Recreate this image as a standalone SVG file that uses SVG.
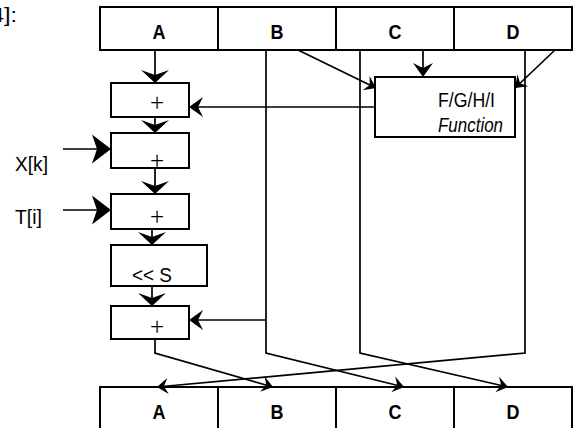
<svg xmlns="http://www.w3.org/2000/svg" width="574" height="428" viewBox="0 0 574 428">
<style>
.box{fill:#fff;stroke:#000;stroke-width:2}
.ln{fill:none;stroke:#000;stroke-width:1.7}
.t{font-family:"Liberation Sans Narrow","Liberation Sans",Arial,sans-serif;font-size:21px;fill:#000}
.b{font-weight:bold;text-anchor:middle}
.p{font-family:"Liberation Serif","Times New Roman",serif;font-size:25px;text-anchor:middle;fill:#000}
</style>
<defs>
<marker id="mv" markerUnits="userSpaceOnUse" orient="auto" refX="0" refY="0" markerWidth="40" markerHeight="40" viewBox="-20 -20 40 40" overflow="visible"><path d="M0,0 L-13,-14 L-8,0 L-13,14 Z" fill="#000"/></marker>
<marker id="mh" markerUnits="userSpaceOnUse" orient="auto" refX="0" refY="0" markerWidth="40" markerHeight="40" viewBox="-20 -20 40 40" overflow="visible"><path d="M0,0 L-14,-10 L-9,0 L-14,10 Z" fill="#000"/></marker>
<marker id="mb" markerUnits="userSpaceOnUse" orient="auto" refX="0" refY="0" markerWidth="40" markerHeight="40" viewBox="-20 -20 40 40" overflow="visible"><path d="M0,0 L-19,-14.5 L-14,0 L-19,14.5 Z" fill="#000"/></marker>
<marker id="ms" markerUnits="userSpaceOnUse" orient="auto" refX="0" refY="0" markerWidth="40" markerHeight="40" viewBox="-20 -20 40 40" overflow="visible"><path d="M0,0 L-11,-8 L-7,0 L-11,8 Z" fill="#000"/></marker>
</defs>
<text class="t" x="-9" y="22" textLength="26" lengthAdjust="spacingAndGlyphs">4]:</text>
<g id="regTop">
<rect class="box" x="100" y="7" width="472" height="43"/>
<path class="ln" d="M218,7V50M336,7V50M454,7V50" style="stroke-width:2"/>
<text class="t b" x="159" y="39" textLength="13" lengthAdjust="spacingAndGlyphs">A</text>
<text class="t b" x="277" y="39" textLength="13" lengthAdjust="spacingAndGlyphs">B</text>
<text class="t b" x="395" y="39" textLength="13" lengthAdjust="spacingAndGlyphs">C</text>
<text class="t b" x="513" y="39" textLength="13" lengthAdjust="spacingAndGlyphs">D</text>
</g>
<g id="regBottom">
<rect class="box" x="100" y="387" width="472" height="50"/>
<path class="ln" d="M218,387V428M336,387V428M454,387V428" style="stroke-width:2"/>
<text class="t b" x="159" y="419" textLength="13" lengthAdjust="spacingAndGlyphs">A</text>
<text class="t b" x="277" y="419" textLength="13" lengthAdjust="spacingAndGlyphs">B</text>
<text class="t b" x="395" y="419" textLength="13" lengthAdjust="spacingAndGlyphs">C</text>
<text class="t b" x="513" y="419" textLength="13" lengthAdjust="spacingAndGlyphs">D</text>
</g>
<g id="connectors">
<path class="ln" d="M155,50V83" marker-end="url(#mv)"/>
<path class="ln" d="M155,117V133" marker-end="url(#mv)"/>
<path class="ln" d="M155,168V194" marker-end="url(#mv)"/>
<path class="ln" d="M152,229V245" marker-end="url(#mv)"/>
<path class="ln" d="M152,286V306" marker-end="url(#mv)"/>
<path class="ln" d="M63,149H111" marker-end="url(#mb)"/>
<path class="ln" d="M63,210H111" marker-end="url(#mb)"/>
<path class="ln" d="M375,107H189" marker-end="url(#mh)"/>
<path class="ln" d="M266,50V353L404,387" marker-end="url(#ms)"/>
<path class="ln" d="M266,320H189" marker-end="url(#mh)"/>
<path class="ln" d="M360,50V353L508,387" marker-end="url(#ms)"/>
<path class="ln" d="M525,50V353L157,387" marker-end="url(#ms)"/>
<path class="ln" d="M155,339V353L273,387" marker-end="url(#ms)"/>
<path class="ln" d="M298,50L376,88" marker-end="url(#ms)"/>
<path class="ln" d="M423,50V77" marker-end="url(#mh)"/>
<path class="ln" d="M555,50L515,88" marker-end="url(#ms)"/>
</g>
<g id="add1"><rect class="box" x="111" y="83" width="78" height="34"/><text class="p" x="157" y="111">+</text></g>
<g id="add2"><rect class="box" x="111" y="133" width="78" height="35"/><text class="p" x="157" y="169">+</text></g>
<g id="add3"><rect class="box" x="111" y="194" width="78" height="35"/><text class="p" x="157" y="225">+</text></g>
<g id="shift"><rect class="box" x="111" y="245" width="96" height="41"/><text class="t" x="132" y="282" textLength="40" lengthAdjust="spacingAndGlyphs">&lt;&lt; S</text></g>
<g id="add4"><rect class="box" x="111" y="306" width="78" height="33"/><text class="p" x="157" y="335">+</text></g>
<g id="func"><rect class="box" x="375" y="77" width="140" height="60"/>
<text class="t" x="438" y="107" textLength="57" lengthAdjust="spacingAndGlyphs">F/G/H/I</text>
<text class="t" x="438" y="132" textLength="65" lengthAdjust="spacingAndGlyphs" font-style="italic">Function</text></g>
<g id="inputs">
<text class="t" x="15" y="171" textLength="33" lengthAdjust="spacingAndGlyphs">X[k]</text>
<text class="t" x="15" y="224" textLength="27" lengthAdjust="spacingAndGlyphs">T[i]</text>
</g>
</svg>
